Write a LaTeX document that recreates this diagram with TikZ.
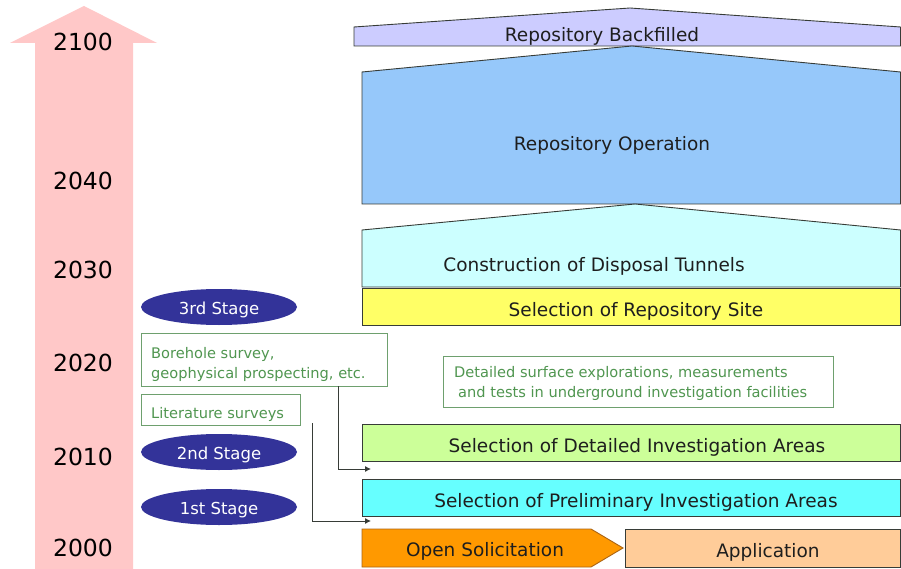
\documentclass[tikz,border=0pt]{standalone}
\usepackage{fontspec}
\setmainfont{DejaVu Sans}
\usetikzlibrary{arrows.meta,shapes.geometric}
\definecolor{timepink}{RGB}{255,200,200}
\definecolor{lav}{RGB}{204,204,255}
\definecolor{opblue}{RGB}{150,200,250}
\definecolor{constr}{RGB}{204,255,255}
\definecolor{siteyel}{RGB}{255,255,102}
\definecolor{detgreen}{RGB}{204,255,153}
\definecolor{precyan}{RGB}{102,255,255}
\definecolor{solorange}{RGB}{255,153,0}
\definecolor{solborder}{RGB}{170,100,20}
\definecolor{appl}{RGB}{255,204,153}
\definecolor{stageblue}{RGB}{51,51,153}
\definecolor{notegreen}{RGB}{80,150,80}
\definecolor{noteborder}{RGB}{110,160,110}
\definecolor{outl}{RGB}{55,60,55}
\tikzset{
  yearlbl/.style={font=\fontsize{23.5}{23.5}\selectfont, text=black},
  boxtxt/.style={font=\fontsize{18.5}{18.5}\selectfont, text={rgb,255:red,30;green,30;blue,30}},
  phase/.style={draw=outl, line width=0.9pt},
  selbox/.style={draw=outl, line width=0.9pt, minimum width=538pt, minimum height=37pt, inner sep=0pt, boxtxt, text height=20.5pt, text depth=2pt},
  stage/.style={ellipse, fill=stageblue, minimum width=156pt, minimum height=36pt, inner sep=0pt, text=white, font=\fontsize{16.5}{16.5}\selectfont, text height=16pt, text depth=0.5pt},
  notebox/.style={draw=noteborder, line width=0.9pt, fill=white, anchor=north west, inner sep=0pt},
  notetxt/.style={text=notegreen, anchor=base west, inner sep=0pt, font=\fontsize{14.6}{14.6}\selectfont},
  conn/.style={draw=outl, line width=0.9pt, -{Latex[length=6pt,width=6pt]}}
}
\begin{document}
\begin{tikzpicture}[x=1pt,y=-1pt]
\useasboundingbox (0,0) rectangle (901,569);
\fill[white] (0,0) rectangle (901,569);
% time arrow
\fill[timepink] (35,569) -- (35,43) -- (10,43) -- (84,6) -- (157,43) -- (133,43) -- (133,569) -- cycle;
\node[yearlbl] (y2100) at (83,42) {2100};
\node[yearlbl] (y2040) at (83,181) {2040};
\node[yearlbl] (y2030) at (83,270) {2030};
\node[yearlbl] (y2020) at (83,363) {2020};
\node[yearlbl] (y2010) at (83,457) {2010};
\node[yearlbl] (y2000) at (83,548) {2000};
% phases
\draw[phase, fill=lav] (354,46) -- (354,27) -- (630,8) -- (900.5,27) -- (900.5,46) -- cycle;
\node[boxtxt] (backfill) at (602,36) {Repository Backfilled};
\draw[phase, fill=opblue] (362,204) -- (362,72) -- (632,46) -- (900.5,72) -- (900.5,204) -- cycle;
\node[boxtxt] (oper) at (612,145) {Repository Operation};
\draw[phase, fill=constr] (362,287) -- (362,230) -- (635,204) -- (900.5,230) -- (900.5,287) -- cycle;
\node[boxtxt] (constr) at (594,266) {Construction of Disposal Tunnels};
\node[selbox, fill=siteyel, anchor=north west] (site) at (362,288) {\hspace{9pt}Selection of Repository Site};
\node[selbox, fill=detgreen, anchor=north west] (detail) at (362,424) {\hspace{11pt}Selection of Detailed Investigation Areas};
\node[selbox, fill=precyan, anchor=north west] (prelim) at (362,479) {\hspace{9pt}Selection of Preliminary Investigation Areas};
% open solicitation / application
\draw[draw=solborder, line width=0.9pt, fill=solorange] (362,529) -- (591,529) -- (623,548) -- (591,567) -- (362,567) -- cycle;
\node[boxtxt] (solic) at (485,551) {Open Solicitation};
\node[draw=outl, line width=0.9pt, fill=appl, anchor=north west, minimum width=275pt, minimum height=38pt, inner sep=0pt, boxtxt, text height=19.6pt, text depth=2pt] (appl) at (625,529) {\hspace{10pt}Application};
% stages
\node[stage] (s3) at (219,307) {3rd Stage};
\node[stage] (s2) at (219,452) {2nd Stage};
\node[stage] (s1) at (219,507) {1st Stage};
% notes
\node[notebox, minimum width=246pt, minimum height=53pt] (bore) at (141,333) {};
\node[notetxt] (bore1) at (151,358) {Borehole survey,};
\node[notetxt] (bore2) at (151,378) {geophysical prospecting, etc.};
\node[notebox, minimum width=159pt, minimum height=31pt] (lit) at (141,394) {};
\node[notetxt] (littxt) at (151,418) {Literature surveys};
\node[notebox, minimum width=390pt, minimum height=51pt] (detnote) at (443,356) {};
\node[notetxt] (det1) at (454,377.5) {Detailed surface explorations, measurements};
\node[notetxt] (det2) at (458,397.5) {and tests in underground investigation facilities};
% connectors
\coordinate (borefoot) at (338,386);
\coordinate (detarr) at (371,469);
\draw[conn] (borefoot) |- (detarr);
\coordinate (litfoot) at (312,423);
\coordinate (prearr) at (371,521);
\draw[conn] (litfoot) |- (prearr);
\end{tikzpicture}
\end{document}
